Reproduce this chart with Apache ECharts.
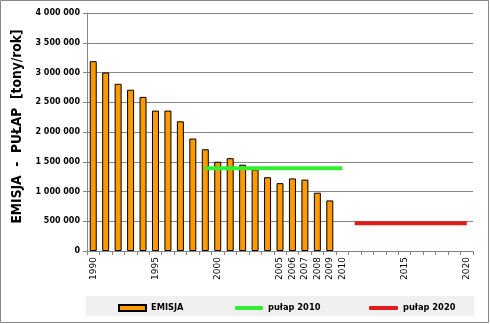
<!DOCTYPE html>
<html>
<head>
<meta charset="utf-8">
<script src="https://cdn.jsdelivr.net/npm/echarts@6/dist/echarts.min.js"></script>
<style>html,body{margin:0;padding:0;background:#fff}#c{width:490px;height:324px}</style>
</head>
<body>
<div id="c"></div>
<script>
var years = ['1990','1991','1992','1993','1994','1995','1996','1997','1998','1999','2000','2001','2002','2003','2004','2005','2006','2007','2008','2009','2010','2011','2012','2013','2014','2015','2016','2017','2018','2019','2020'];
var emisja = [3190000,3000000,2810000,2710000,2590000,2360000,2360000,2180000,1890000,1710000,1500000,1560000,1450000,1370000,1240000,1140000,1220000,1200000,980000,850000,null,null,null,null,null,null,null,null,null,null,null];
var pulap2010 = [null,null,null,null,null,null,null,null,null,1390000,1390000,1390000,1390000,1390000,1390000,1390000,1390000,1390000,1390000,1390000,1390000,null,null,null,null,null,null,null,null,null,null];
var pulap2020 = [null,null,null,null,null,null,null,null,null,null,null,null,null,null,null,null,null,null,null,null,null,465000,465000,465000,465000,465000,465000,465000,465000,465000,465000];
var shownYearLabels = ['1990','1995','2000','2005','2006','2007','2008','2009','2010','2015','2020'];

var chart = echarts.init(document.getElementById('c'), null, {renderer:'canvas'});
var legendText = {fontFamily:'DejaVu Sans', fontWeight:'bold', fontSize:8.3, color:'#000'};
chart.setOption({
  animation:false,
  backgroundColor:'#fff',
  graphic:[
    {type:'rect', shape:{x:0.5,y:0.5,width:488,height:322}, style:{fill:'none',stroke:'#868686',lineWidth:1}, z:-10},
    {type:'rect', shape:{x:86,y:296,width:388,height:20}, style:{fill:'#f0f0f0'}, z:-9}
  ],
  grid:{left:87,right:17,top:13,bottom:73,containLabel:false},
  xAxis:{
    type:'category', data:years, boundaryGap:true,
    axisLine:{lineStyle:{color:'#868686',width:1}},
    axisTick:{show:true,interval:0,length:4,lineStyle:{color:'#868686'}},
    axisLabel:{
      interval:function(i,v){return shownYearLabels.indexOf(v)>=0;},
      rotate:90, margin:6, fontFamily:'DejaVu Sans', fontSize:9, color:'#000'
    },
    splitLine:{show:false}
  },
  yAxis:{
    type:'value', min:0, max:4000000, interval:500000,
    name:'EMISJA  -  PUŁAP  [tony/rok]', nameLocation:'middle', nameRotate:90, nameGap:54,
    nameTextStyle:{fontFamily:'DejaVu Sans Condensed, Liberation Sans', fontWeight:'bold', fontSize:13.7, color:'#000', padding:[0,0,0,11]},
    axisLine:{show:true,lineStyle:{color:'#868686',width:1}},
    axisTick:{show:true,length:4,lineStyle:{color:'#868686'}},
    axisLabel:{margin:7, fontFamily:'DejaVu Sans', fontWeight:'bold', fontSize:8, color:'#000',
      formatter:function(v){return String(v).replace(/\B(?=(\d{3})+(?!\d))/g,' ');}},
    splitLine:{show:true,lineStyle:{color:'#868686',width:1}}
  },
  legend:[
    {data:['EMISJA'], left:113, top:299, itemWidth:27, itemHeight:6, icon:'rect', textStyle:legendText, selectedMode:false},
    {data:['pułap 2010'], left:230, top:299, itemWidth:28, itemHeight:4, icon:'roundRect', textStyle:legendText, selectedMode:false},
    {data:['pułap 2020'], left:364, top:299, itemWidth:29, itemHeight:4, icon:'roundRect', textStyle:legendText, selectedMode:false}
  ],
  series:[
    {name:'EMISJA', type:'bar', data:emisja, barWidth:7,
      itemStyle:{color:'#FF9900', borderColor:'#000', borderWidth:1}, z:2},
    {name:'pułap 2010', type:'line', data:pulap2010, showSymbol:false, symbol:'none', connectNulls:false,
      lineStyle:{color:'#33EE33', width:4}, itemStyle:{color:'#33EE33'}, z:5},
    {name:'pułap 2020', type:'line', data:pulap2020, showSymbol:false, symbol:'none', connectNulls:false,
      lineStyle:{color:'#E21B1B', width:4}, itemStyle:{color:'#E21B1B'}, z:5}
  ]
});
</script>
</body>
</html>
